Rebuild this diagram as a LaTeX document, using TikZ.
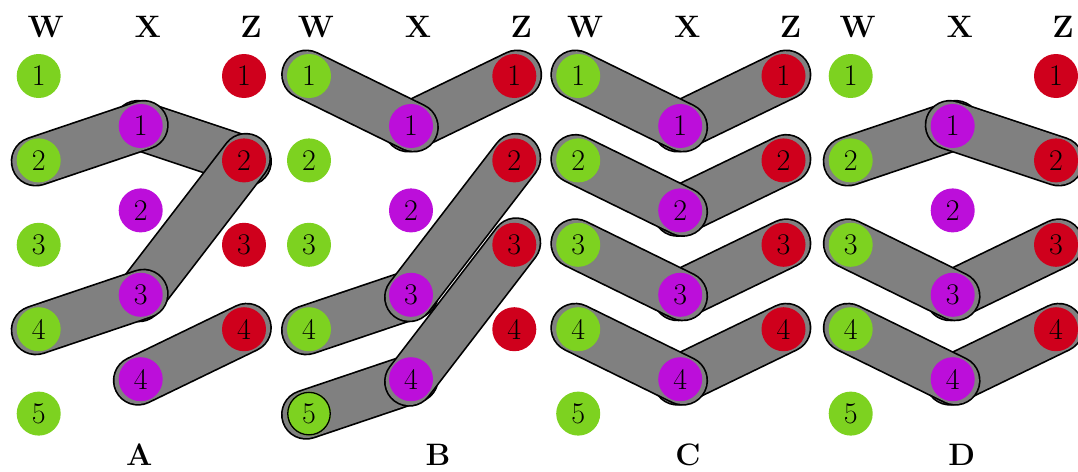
\documentclass[tikz,border=0pt]{standalone}
\usetikzlibrary{backgrounds}
\definecolor{wgreen}{RGB}{125,210,32}
\definecolor{xpurple}{RGB}{188,14,218}
\definecolor{zred}{RGB}{207,0,28}
\definecolor{bandgray}{RGB}{128,128,128}
\begin{document}
\begin{tikzpicture}[x=1pt,y=-1pt,
  dot/.style={circle, minimum size=44pt, inner sep=0pt, font=\fontsize{30}{35}\selectfont},
  wdot/.style={dot, fill=wgreen},
  xdot/.style={dot, fill=xpurple},
  zdot/.style={dot, fill=zred},
  head/.style={font=\fontsize{31}{36}\selectfont\bfseries, anchor=base},
  band/.style={line width=1.7pt, double=bandgray, double distance=47pt,
               line cap=round, shorten <=-3pt, shorten >=-3pt},
]
\useasboundingbox (0,0) rectangle (1078,471);

% the four panels: W, X and Z columns
\foreach \p/\o in {A/0, B/270.3, C/539.5, D/812} {
  \node[head] (\p hw) at ({\o+45.7},37.3) {W};
  \node[head] (\p hx) at ({\o+147.7},37.3) {X};
  \node[head] (\p hz) at ({\o+251},37.3) {Z};
  \foreach \i in {1,...,5}
    \node[wdot] (\p w\i) at ({\o+38.7},{76+84.4*(\i-1)}) {\i};
  \foreach \i in {1,...,4} {
    \node[xdot] (\p x\i) at ({\o+140.7},{126+84.4*(\i-1)}) {\i};
    \node[zdot] (\p z\i) at ({\o+244},{76+84.4*(\i-1)}) {\i};
  }
}
% ringed W5 in panel B
\node[circle, minimum size=42.5pt, inner sep=0pt, draw=black, line width=1.3pt]
  (Bring) at (Bw5.center) {};

% panel captions
\node[head] (labA) at (139.3,465) {A};
\node[head] (labB) at (438,465) {B};
\node[head] (labC) at (688,465) {C};
\node[head] (labD) at (961.7,465) {D};

\begin{scope}[on background layer]
  % A
  \draw[band] (Ax1.center) -- (Az2.center);
  \draw[band] (Aw2.center) -- (Ax1.center);
  \draw[band] (Az2.center) -- (Ax3.center);
  \draw[band] (Aw4.center) -- (Ax3.center);
  \draw[band] (Ax4.center) -- (Az4.center);
  % B
  \draw[band] (Bx1.center) -- (Bz1.center);
  \draw[band] (Bw1.center) -- (Bx1.center);
  \draw[band] (Bw4.center) -- (Bx3.center);
  \draw[band] (Bx3.center) -- (Bz2.center);
  \draw[band] (Bw5.center) -- (Bx4.center);
  \draw[band] (Bx4.center) -- (Bz3.center);
  % C
  \foreach \i in {1,...,4} {
    \draw[band] (Cx\i.center) -- (Cz\i.center);
    \draw[band] (Cw\i.center) -- (Cx\i.center);
  }
  % D
  \draw[band] (Dw2.center) -- (Dx1.center);
  \draw[band] (Dx1.center) -- (Dz2.center);
  \foreach \i in {3,4} {
    \draw[band] (Dx\i.center) -- (Dz\i.center);
    \draw[band] (Dw\i.center) -- (Dx\i.center);
  }
\end{scope}
\end{tikzpicture}
\end{document}
